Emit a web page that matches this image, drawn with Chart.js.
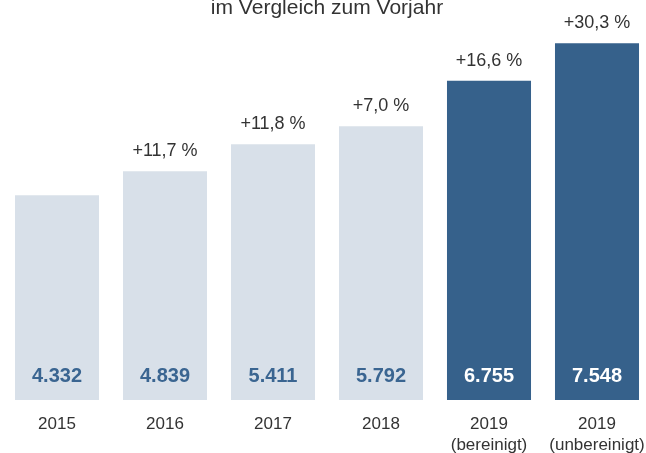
<!DOCTYPE html>
<html>
<head>
<meta charset="utf-8">
<script src="https://cdn.jsdelivr.net/npm/chart.js@4.4.1/dist/chart.umd.min.js"></script>
<style>
  html, body { margin: 0; padding: 0; overflow: hidden; background: #fff; }
  canvas { display: block; }
</style>
</head>
<body>
<canvas id="chart" width="652" height="453"></canvas>
<script>
var categories = [['2015'], ['2016'], ['2017'], ['2018'], ['2019', '(bereinigt)'], ['2019', '(unbereinigt)']];
var values = [4332, 4839, 5411, 5792, 6755, 7548];
var changes = ['', '+11,7 %', '+11,8 %', '+7,0 %', '+16,6 %', '+30,3 %'];
var highlighted = [false, false, false, false, true, true];
var subtitle = 'im Vergleich zum Vorjahr';

var LIGHT = '#d8e0e9';
var DARK = '#36618b';
var TEXT = '#333333';
var FONT = '"Liberation Sans", Arial, Helvetica, sans-serif';

function fmt(v) {
  return String(v).replace(/\B(?=(\d{3})+(?!\d))/g, '.');
}

var labelPlugin = {
  id: 'labels',
  afterDatasetsDraw: function(chart) {
    var ctx = chart.ctx;
    var meta = chart.getDatasetMeta(0);
    var area = chart.chartArea;
    ctx.save();
    ctx.textAlign = 'center';
    meta.data.forEach(function(bar, i) {
      // value inside the bar, near the bottom
      ctx.font = 'bold 20px ' + FONT;
      ctx.fillStyle = highlighted[i] ? '#ffffff' : '#3a6591';
      ctx.textBaseline = 'middle';
      ctx.fillText(fmt(values[i]), bar.x, area.bottom - 24);
      // change vs previous year above the bar
      if (changes[i]) {
        ctx.font = '18px ' + FONT;
        ctx.fillStyle = TEXT;
        ctx.textBaseline = 'alphabetic';
        ctx.fillText(changes[i], bar.x, bar.y - 15);
      }
    });
    // subtitle, cut at the top edge like the original
    ctx.font = '21px ' + FONT;
    ctx.fillStyle = TEXT;
    ctx.textBaseline = 'alphabetic';
    ctx.fillText(subtitle, 327, 14);
    ctx.restore();
  }
};

var ctx = document.getElementById('chart').getContext('2d');
var myChart = new Chart(ctx, {
  type: 'bar',
  data: {
    labels: categories,
    datasets: [{
      data: values,
      backgroundColor: highlighted.map(function(h) { return h ? DARK : LIGHT; }),
      borderWidth: 0,
      barPercentage: 0.778,
      categoryPercentage: 1
    }]
  },
  options: {
    responsive: false,
    animation: false,
    devicePixelRatio: 1,
    layout: {
      padding: { top: 30, left: 3, right: 1, bottom: 0 }
    },
    plugins: {
      legend: { display: false },
      title: { display: false },
      tooltip: { enabled: false }
    },
    scales: {
      y: {
        display: false,
        min: 0,
        max: 7827
      },
      x: {
        grid: { display: false, drawTicks: true, tickLength: 14 },
        border: { display: false },
        ticks: {
          color: TEXT,
          padding: 0,
          maxRotation: 0,
          autoSkip: false,
          font: { family: FONT, size: 17, lineHeight: 1.22 }
        },
        afterFit: function(scale) { scale.height = 53; }
      }
    }
  },
  plugins: [labelPlugin]
});
</script>
</body>
</html>
